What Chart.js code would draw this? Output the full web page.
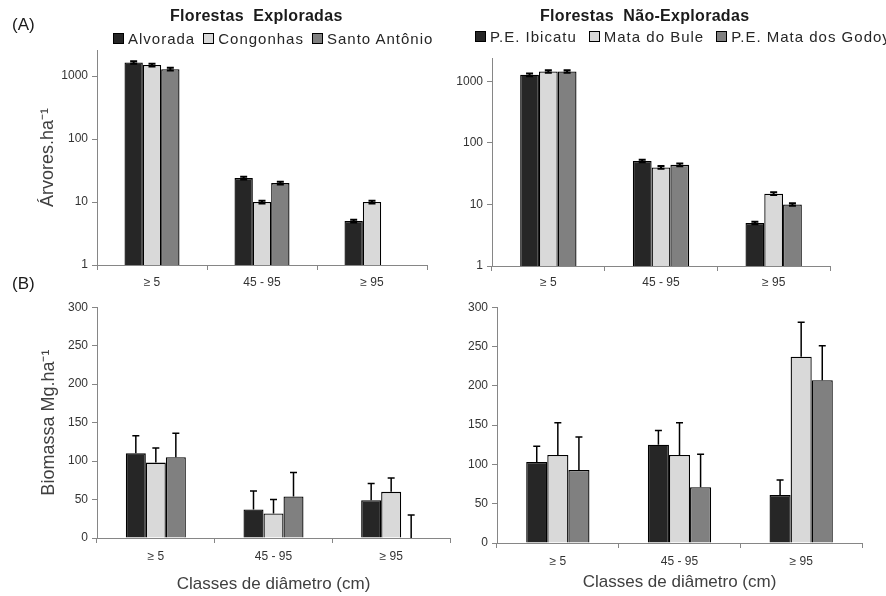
<!DOCTYPE html>
<html><head><meta charset="utf-8">
<script src="https://cdn.jsdelivr.net/npm/chart.js@4/dist/chart.umd.min.js"></script>
<style>
html,body{margin:0;padding:0;background:#fff;width:886px;height:596px;overflow:hidden;font-family:"Liberation Sans",Arial,sans-serif;}
canvas{position:absolute;}
.t{position:absolute;white-space:nowrap;line-height:1;color:#1a1a1a;}
.lg{position:absolute;display:flex;align-items:center;white-space:nowrap;line-height:1;font-size:15px;letter-spacing:1px;color:#262626;}
.lg .b{width:9px;height:9px;border:1px solid #000;margin-right:4px;flex:none;}
.lg .n{margin-right:8px;}
#lg2 .n{margin-right:12px;}
</style></head><body>
<canvas id="a1" width="443" height="300" style="left:0;top:0"></canvas>
<canvas id="a2" width="443" height="300" style="left:443px;top:0"></canvas>
<canvas id="b1" width="460" height="300" style="left:0;top:296px"></canvas>
<canvas id="b2" width="443" height="300" style="left:443px;top:296px"></canvas>
<div class="t" style="left:12px;top:16px;font-size:17px;">(A)</div>
<div class="t" style="left:12px;top:275px;font-size:17px;">(B)</div>
<div class="t" id="ttl1" style="left:170px;top:8px;font-size:16px;font-weight:bold;letter-spacing:0.3px;"></div>
<div class="t" id="ttl2" style="left:540px;top:8px;font-size:16px;font-weight:bold;letter-spacing:0.3px;"></div>
<div class="lg" id="lg1" style="left:113px;top:31px;"></div>
<div class="lg" id="lg2" style="left:475px;top:29px;"></div>
<script>
// ---- data ----
const categories = ['≥ 5', '45 - 95', '≥ 95'];
const titleExplored = 'Florestas\u00a0 Exploradas';
const titleUnexplored = 'Florestas\u00a0 Não-Exploradas';
const exploredSites = ['Alvorada', 'Congonhas', 'Santo Antônio'];
const unexploredSites = ['P.E. Ibicatu', 'Mata do Bule', 'P.E. Mata dos Godoy'];
const seriesColors = ['#262626', '#d9d9d9', '#808080'];
const logTickValues = [1, 10, 100, 1000];
const biomassTickValues = [0, 50, 100, 150, 200, 250, 300];
const yTitleTrees = 'Árvores.ha⁻¹';
const yTitleBiomass = 'Biomassa Mg.ha⁻¹';
const xTitleClasses = 'Classes de diâmetro (cm)';

// (A) trees per hectare
const treesAlvorada = [1650, 24, 5];
const treesCongonhas = [1500, 10, 10];
const treesSantoAntonio = [1290, 20, null];
const treesAlvoradaErr = [80, 1.2, 0.25];
const treesCongonhasErr = [75, 0.5, 0.5];
const treesSantoAntonioErr = [65, 1, null];

const treesIbicatu = [1280, 51, 5];
const treesMataBule = [1450, 40, 15];
const treesMataGodoy = [1450, 44, 10];
const treesIbicatuErr = [65, 2.5, 0.25];
const treesMataBuleErr = [70, 2, 0.8];
const treesMataGodoyErr = [70, 2.2, 0.5];

// (B) biomass
const bioAlvorada = [110, 37, 49];
const bioCongonhas = [98, 32, 60];
const bioSantoAntonio = [105, 54, 0];
const bioAlvoradaErr = [23, 24, 22];
const bioCongonhasErr = [19, 18, 18];
const bioSantoAntonioErr = [31, 31, 30];

const bioIbicatu = [103, 125, 61];
const bioMataBule = [112, 112, 237];
const bioMataGodoy = [93, 71, 207];
const bioIbicatuErr = [20, 18, 19];
const bioMataBuleErr = [41, 41, 44];
const bioMataGodoyErr = [42, 42, 44];

// ---- html text ----
document.getElementById('ttl1').textContent = titleExplored;
document.getElementById('ttl2').textContent = titleUnexplored;
function buildLegend(id, names) {
  const el = document.getElementById(id);
  names.forEach((n, i) => {
    const b = document.createElement('span'); b.className = 'b'; b.style.background = seriesColors[i];
    const s = document.createElement('span'); s.className = 'n'; s.textContent = n;
    el.appendChild(b); el.appendChild(s);
  });
}
buildLegend('lg1', exploredSites);
buildLegend('lg2', unexploredSites);

// ---- charts ----
const FONT = '"Liberation Sans", Arial, sans-serif';
Chart.defaults.font.family = FONT;

function errorBarPlugin(errs, both) {
  return {
    id: 'errorBars',
    afterDatasetsDraw(chart) {
      const ctx = chart.ctx, ys = chart.scales.y;
      ctx.save();
      ctx.strokeStyle = '#000';
      ctx.lineWidth = both ? 2 : 1.5;
      chart.data.datasets.forEach((ds, i) => {
        const meta = chart.getDatasetMeta(i);
        meta.data.forEach((bar, j) => {
          const e = errs[i][j];
          if (e == null) return;
          const v = ds.data[j] == null ? 0 : ds.data[j];
          const x = bar.x;
          const yt = ys.getPixelForValue(v + e);
          const yb = both ? ys.getPixelForValue(v - e) : ys.getPixelForValue(v);
          const cap = 3.5;
          ctx.beginPath();
          ctx.moveTo(x, yb); ctx.lineTo(x, yt);
          ctx.moveTo(x - cap, yt); ctx.lineTo(x + cap, yt);
          if (both) { ctx.moveTo(x - cap, yb); ctx.lineTo(x + cap, yb); }
          ctx.stroke();
        });
      });
      ctx.restore();
    }
  };
}

function makeChart(id, cfg) {
  const datasets = cfg.series.map((d, i) => ({
    label: cfg.names[i], data: d,
    backgroundColor: seriesColors[i], borderColor: '#000', borderWidth: 1.3,
    borderSkipped: 'bottom',
    categoryPercentage: cfg.catPct, barPercentage: 1.0
  }));
  const yScale = {
    type: cfg.log ? 'logarithmic' : 'linear',
    min: cfg.yMin, max: cfg.yMax,
    grid: { display: true, drawOnChartArea: false, drawTicks: true, tickLength: 5, color: '#868686' },
    border: { display: true, color: '#868686', width: 1 },
    ticks: { font: { size: 12 }, color: '#333', padding: 4, callback: v => String(v) },
    afterBuildTicks: s => { s.ticks = cfg.yTicks.map(v => ({ value: v })); },
    afterFit: s => { s.width = cfg.yW; },
    title: cfg.yTitle ? { display: true, text: cfg.yTitle, font: { size: 18 }, color: '#404040', padding: { top: 0, bottom: 0 } } : { display: false }
  };
  const xScale = {
    grid: { display: true, drawOnChartArea: false, drawTicks: true, tickLength: 5, color: '#868686', offset: true },
    border: { display: true, color: '#868686', width: 1 },
    ticks: { font: { size: 12 }, color: '#333', padding: cfg.tickPad, maxRotation: 0 },
    afterFit: s => { s.height = cfg.xH; },
    title: cfg.xTitle ? { display: true, text: cfg.xTitle, font: { size: 17 }, color: '#404040', padding: { top: 0, bottom: cfg.xTitlePad } } : { display: false }
  };
  return new Chart(document.getElementById(id), {
    type: 'bar',
    data: { labels: categories, datasets },
    options: {
      responsive: false, animation: false,
      layout: { padding: cfg.pad },
      plugins: { legend: { display: false }, tooltip: { enabled: false }, title: { display: false } },
      scales: { x: xScale, y: yScale }
    },
    plugins: [errorBarPlugin(cfg.errs, cfg.log)]
  });
}

makeChart('a1', {
  log: true, yMin: 1, yMax: 2600, yTicks: logTickValues,
  names: exploredSites,
  series: [treesAlvorada, treesCongonhas, treesSantoAntonio],
  errs: [treesAlvoradaErr, treesCongonhasErr, treesSantoAntonioErr],
  catPct: 0.5, yW: 60, xH: 35, tickPad: 5, yTitle: yTitleTrees,
  pad: { left: 37, top: 50, right: 16, bottom: 0 }
});
makeChart('a2', {
  log: true, yMin: 1, yMax: 2400, yTicks: logTickValues,
  names: unexploredSites,
  series: [treesIbicatu, treesMataBule, treesMataGodoy],
  errs: [treesIbicatuErr, treesMataBuleErr, treesMataGodoyErr],
  catPct: 0.5, yW: 45, xH: 34, tickPad: 4,
  pad: { left: 4, top: 58, right: 56, bottom: 0 }
});
makeChart('b1', {
  log: false, yMin: 0, yMax: 300, yTicks: biomassTickValues,
  names: exploredSites,
  series: [bioAlvorada, bioCongonhas, bioSantoAntonio],
  errs: [bioAlvoradaErr, bioCongonhasErr, bioSantoAntonioErr],
  catPct: 0.51, yW: 59, xH: 58, tickPad: 6, yTitle: yTitleBiomass,
  xTitle: xTitleClasses, xTitlePad: 1,
  pad: { left: 38, top: 8, right: 10, bottom: 0 }
});
makeChart('b2', {
  log: false, yMin: 0, yMax: 300, yTicks: biomassTickValues,
  names: unexploredSites,
  series: [bioIbicatu, bioMataBule, bioMataGodoy],
  errs: [bioIbicatuErr, bioMataBuleErr, bioMataGodoyErr],
  catPct: 0.52, yW: 45, xH: 53, tickPad: 6,
  xTitle: xTitleClasses, xTitlePad: 3,
  pad: { left: 9, top: 10, right: 24, bottom: 0 }
});
</script>
</body></html>
